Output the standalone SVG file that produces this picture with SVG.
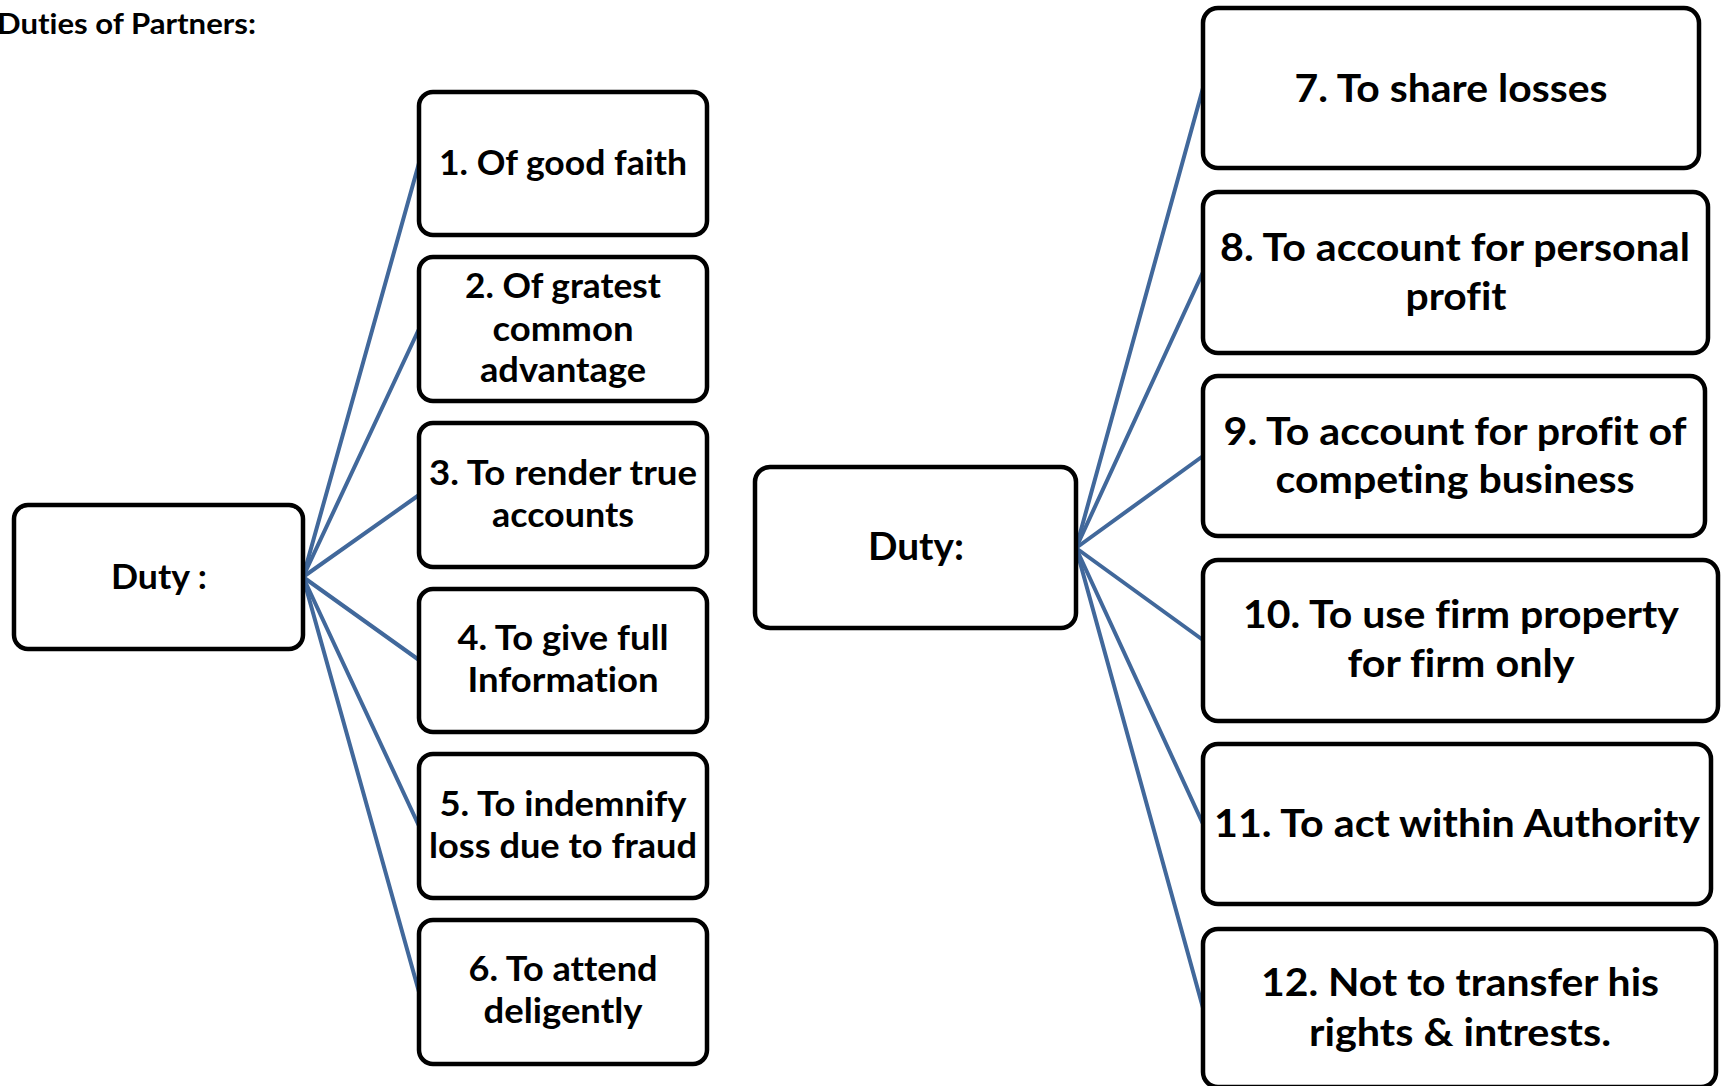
<svg xmlns="http://www.w3.org/2000/svg" width="1723" height="1086" viewBox="0 0 1723 1086">
<style>
.box{fill:#ffffff;stroke:#000000;stroke-width:4.5}
.t{font-family:Lato,"Open Sans","Liberation Sans",sans-serif;font-weight:bold;fill:#000000;text-anchor:middle;font-variant-ligatures:none;font-feature-settings:"liga" 0}
.s{font-size:35px}
.l{font-size:39px}
.ln{stroke:#41689b;stroke-width:4;fill:none;stroke-linecap:round}
</style>
<rect width="1723" height="1086" fill="#ffffff"/>
<text class="t" x="-3" y="34" style="font-size:28px;text-anchor:start" textLength="259" lengthAdjust="spacingAndGlyphs">Duties of Partners:</text>
<g id="connectors">
<line class="ln" x1="303" y1="577" x2="419" y2="163"/>
<line class="ln" x1="303" y1="577" x2="419" y2="329"/>
<line class="ln" x1="303" y1="577" x2="419" y2="495"/>
<line class="ln" x1="303" y1="577" x2="419" y2="660"/>
<line class="ln" x1="303" y1="577" x2="419" y2="826"/>
<line class="ln" x1="303" y1="577" x2="419" y2="992"/>
<line class="ln" x1="1076" y1="548" x2="1203" y2="88"/>
<line class="ln" x1="1076" y1="548" x2="1203" y2="272"/>
<line class="ln" x1="1076" y1="548" x2="1203" y2="456"/>
<line class="ln" x1="1076" y1="548" x2="1203" y2="640"/>
<line class="ln" x1="1076" y1="548" x2="1203" y2="824"/>
<line class="ln" x1="1076" y1="548" x2="1203" y2="1008"/>
</g>
<g id="duty-left">
<rect class="box" x="14" y="505" width="289" height="144" rx="14"/>
<text class="t s" x="159" y="589" textLength="96" lengthAdjust="spacingAndGlyphs">Duty :</text>
</g>
<g id="n1">
<rect class="box" x="419" y="92" width="288" height="143" rx="14"/>
<text class="t s" x="563" y="175" textLength="248" lengthAdjust="spacingAndGlyphs">1. Of good faith</text>
</g>
<g id="n2">
<rect class="box" x="419" y="257" width="288" height="144" rx="14"/>
<text class="t s" x="563" y="298" textLength="196" lengthAdjust="spacingAndGlyphs">2. Of gratest</text>
<text class="t s" x="563" y="341" textLength="141" lengthAdjust="spacingAndGlyphs">common</text>
<text class="t s" x="563" y="382" textLength="166" lengthAdjust="spacingAndGlyphs">advantage</text>
</g>
<g id="n3">
<rect class="box" x="419" y="423" width="288" height="144" rx="14"/>
<text class="t s" x="563" y="485" textLength="268" lengthAdjust="spacingAndGlyphs">3. To render true</text>
<text class="t s" x="563" y="527" textLength="142" lengthAdjust="spacingAndGlyphs">accounts</text>
</g>
<g id="n4">
<rect class="box" x="419" y="589" width="288" height="143" rx="14"/>
<text class="t s" x="563" y="650" textLength="211" lengthAdjust="spacingAndGlyphs">4. To give full</text>
<text class="t s" x="563" y="692" textLength="191" lengthAdjust="spacingAndGlyphs">Information</text>
</g>
<g id="n5">
<rect class="box" x="419" y="754" width="288" height="144" rx="14"/>
<text class="t s" x="563" y="816" textLength="247" lengthAdjust="spacingAndGlyphs">5. To indemnify</text>
<text class="t s" x="563" y="858" textLength="268" lengthAdjust="spacingAndGlyphs">loss due to fraud</text>
</g>
<g id="n6">
<rect class="box" x="419" y="920" width="288" height="144" rx="14"/>
<text class="t s" x="563" y="981" textLength="189" lengthAdjust="spacingAndGlyphs">6. To attend</text>
<text class="t s" x="563" y="1023" textLength="159" lengthAdjust="spacingAndGlyphs">deligently</text>
</g>
<g id="duty-mid">
<rect class="box" x="755" y="467" width="321" height="161" rx="15"/>
<text class="t l" x="916" y="560" textLength="96" lengthAdjust="spacingAndGlyphs">Duty:</text>
</g>
<g id="n7">
<rect class="box" x="1203" y="8" width="496" height="160" rx="15"/>
<text class="t l" x="1451" y="102" textLength="313" lengthAdjust="spacingAndGlyphs">7. To share losses</text>
</g>
<g id="n8">
<rect class="box" x="1203" y="192" width="505" height="161" rx="15"/>
<text class="t l" x="1455" y="261" textLength="470" lengthAdjust="spacingAndGlyphs">8. To account for personal</text>
<text class="t l" x="1456" y="310" textLength="101" lengthAdjust="spacingAndGlyphs">profit</text>
</g>
<g id="n9">
<rect class="box" x="1203" y="376" width="502" height="160" rx="15"/>
<text class="t l" x="1455" y="445" textLength="463" lengthAdjust="spacingAndGlyphs">9. To account for profit of</text>
<text class="t l" x="1455" y="493" textLength="359" lengthAdjust="spacingAndGlyphs">competing business</text>
</g>
<g id="n10">
<rect class="box" x="1203" y="560" width="515" height="161" rx="15"/>
<text class="t l" x="1461" y="628" textLength="436" lengthAdjust="spacingAndGlyphs">10. To use firm property</text>
<text class="t l" x="1461" y="677" textLength="227" lengthAdjust="spacingAndGlyphs">for firm only</text>
</g>
<g id="n11">
<rect class="box" x="1203" y="744" width="508" height="160" rx="15"/>
<text class="t l" x="1457" y="837" textLength="486" lengthAdjust="spacingAndGlyphs">11. To act within Authority</text>
</g>
<g id="n12">
<rect class="box" x="1203" y="929" width="513" height="158" rx="15"/>
<text class="t l" x="1460" y="996" textLength="398" lengthAdjust="spacingAndGlyphs">12. Not to transfer his</text>
<text class="t l" x="1460" y="1046" textLength="302" lengthAdjust="spacingAndGlyphs">rights &amp; intrests.</text>
</g>
</svg>
